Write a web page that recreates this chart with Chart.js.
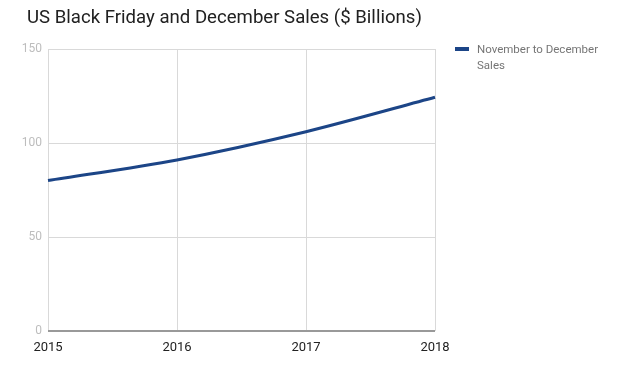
<!DOCTYPE html>
<html>
<head>
<meta charset="utf-8">
<script src="https://cdn.jsdelivr.net/npm/chart.js@4"></script>
<style>
  body { margin: 0; background: #fff; font-family: Roboto, sans-serif; }
  #wrap { position: relative; width: 630px; height: 376px; }
  #title { position: absolute; left: 27px; top: 6px; font-size: 18.6px; color: #212121; white-space: nowrap; }
  #legend { position: absolute; left: 455px; top: 41px; font-size: 11.5px; color: #757575; line-height: 16px; }
  #legend .swatch { position: absolute; left: 0; top: 6px; width: 14px; height: 4px; background: #1c4587; }
  #legend .text { margin-left: 22px; width: 140px; }
  canvas { position: absolute; left: 0; top: 0; }
</style>
</head>
<body>
<div id="wrap">
  <canvas id="chart" width="630" height="376"></canvas>
  <div id="title">US Black Friday and December Sales ($ Billions)</div>
  <div id="legend"><span class="swatch"></span><div class="text">November to December<br>Sales</div></div>
</div>
<script>
const years = ["2015", "2016", "2017", "2018"];
const sales = [80, 91, 106, 124.3];
const yTicks = [0, 50, 100, 150];

const ctx = document.getElementById("chart").getContext("2d");
new Chart(ctx, {
  type: "line",
  data: {
    labels: years,
    datasets: [{
      label: "November to December Sales",
      data: sales,
      borderColor: "#1c4587",
      borderWidth: 3,
      pointRadius: 0,
      tension: 0.3,
      fill: false
    }]
  },
  options: {
    responsive: false,
    animation: false,
    layout: { padding: { left: 0, top: 49, right: 195, bottom: 0 } },
    plugins: {
      legend: { display: false },
      tooltip: { enabled: false }
    },
    scales: {
      x: {
        offset: false,
        border: { display: false },
        grid: { color: "#d9d9d9", lineWidth: 1, drawTicks: false },
        ticks: { color: "#222", font: { family: "Roboto", size: 13 }, padding: 9, maxRotation: 0 },
        afterFit: function (s) { s.height = 45; }
      },
      y: {
        min: 0,
        max: 150,
        border: { display: false },
        afterBuildTicks: function (s) { s.ticks = yTicks.map(v => ({ value: v })); },
        grid: {
          drawTicks: false,
          color: c => c.tick.value === 0 ? "#999" : "#d9d9d9",
          lineWidth: c => c.tick.value === 0 ? 2 : 1
        },
        ticks: { color: "#bdbdbd", font: { family: "Roboto", size: 12 }, padding: 6 },
        afterFit: function (s) { s.width = 48; }
      }
    }
  }
});
</script>
</body>
</html>
